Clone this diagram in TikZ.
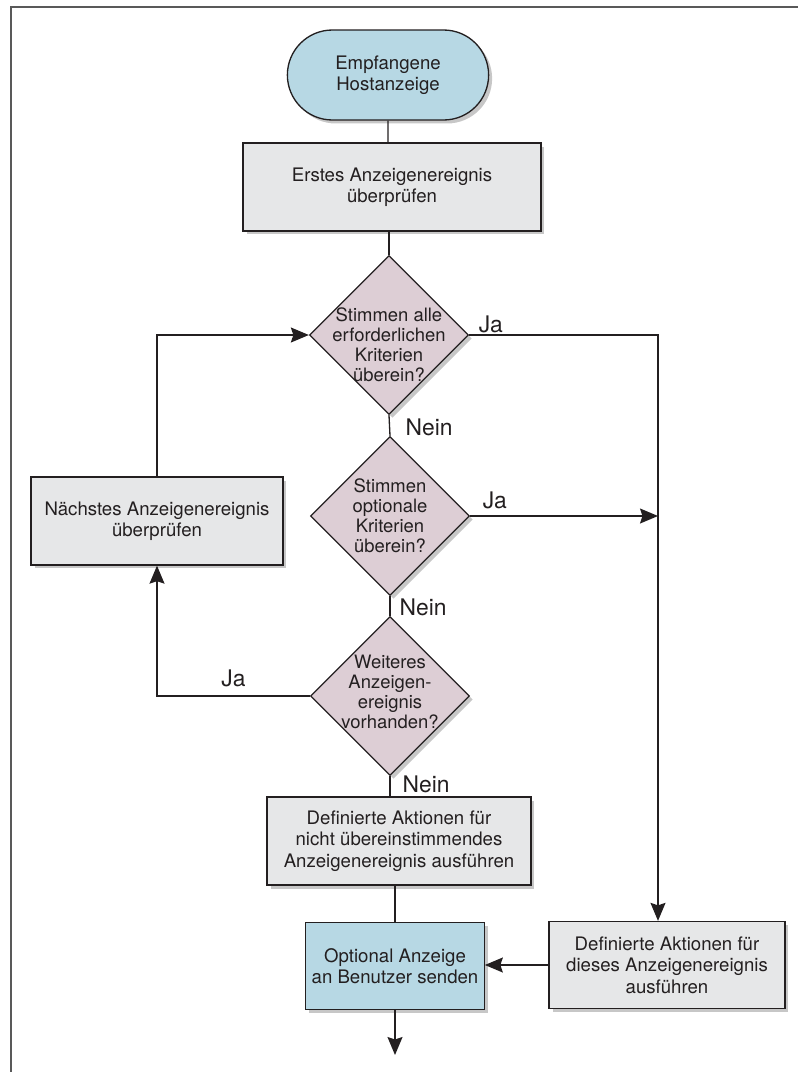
\documentclass[tikz,border=0pt]{standalone}
\usepackage{fontspec}
\setmainfont{TeX Gyre Heros}
\usetikzlibrary{arrows.meta, shapes.geometric, shapes.misc, shadows}

\definecolor{termblue}{RGB}{183,216,228}
\definecolor{decmauve}{RGB}{221,206,213}
\definecolor{stepgray}{RGB}{230,231,232}
\definecolor{inkgray}{RGB}{35,31,32}
\newcommand\boxfont{\fontsize{10.6}{12.2}\selectfont}
\newcommand\decfont{\fontsize{10.5}{11.3}\selectfont}
\newcommand\lblfont{\fontsize{13}{15}\selectfont}

\begin{document}
\begin{tikzpicture}[x=0.02cm, y=-0.02cm, color=inkgray, line width=0.75pt,
        >={Stealth[length=0.36cm, width=0.3cm, inset=0.05cm]},
        shade/.style={drop shadow={shadow xshift=0.07cm, shadow yshift=-0.07cm, fill=black, opacity=0.22}},
        proc/.style={rectangle, draw, fill=stepgray, shade, align=center, font=\boxfont, minimum height=1.76cm},
        term/.style={rounded rectangle, draw, fill=termblue, shade, align=center, font=\boxfont},
        dec/.style={diamond, draw, fill=decmauve, shade, aspect=1, inner sep=0pt, minimum width=3.18cm, minimum height=3.18cm},
        dectext/.style={align=center, font=\decfont, inner sep=0pt},
        lbl/.style={font=\lblfont, inner sep=0pt}]
        \useasboundingbox (0, 0) rectangle (798, 1072);
        \draw[black!65, line width=1.1pt] (11, 1072) -- (11, 7) -- (798, 7);

        \node[term, minimum width=4.26cm, minimum height=1.8cm] (start) at (388, 75) {Empfangene\\Hostanzeige};
        \node[proc, minimum width=5.96cm] (first) at (392, 187) {Erstes Anzeigenereignis\\überprüfen};
        \node[dec, label={[dectext, yshift=-0.2cm]center:Stimmen alle\\erforderlichen\\Kriterien\\überein?}] (req) at (389, 335) {};
        \node[dec, label={[dectext]center:Stimmen\\optionale\\Kriterien\\überein?}] (opt) at (390, 516) {};
        \node[dec, label={[dectext, yshift=0.08cm]center:Weiteres\\Anzeigen-\\ereignis\\vorhanden?}] (more) at (390, 696) {};
        \node[proc, minimum width=5.04cm] (next) at (157, 521) {Nächstes Anzeigenereignis\\überprüfen};
        \node[proc, minimum width=5.28cm] (nomatch) at (399, 841) {Definierte Aktionen für\\nicht übereinstimmendes\\Anzeigenereignis ausführen};
        \node[proc, fill=termblue, minimum width=3.44cm, minimum height=1.74cm] (notify) at (395, 966) {Optional Anzeige\\an Benutzer senden};
        \node[proc, minimum width=4.72cm, minimum height=1.74cm] (match) at (667, 965) {Definierte Aktionen für\\dieses Anzeigenereignis\\ausführen};
        \coordinate (rail) at (658, 0);
        \coordinate (out) at (395, 1055);

        \draw (start) -- (start |- first.north);
        \draw (first.south -| req.north) -- (req.north);
        \draw (req.south) -- (opt.north) node[lbl, anchor=base west, xshift=0.32cm, yshift=-0.4cm] at (req.south) {Nein};
        \draw (opt.south) -- (more.north) node[lbl, anchor=base west, xshift=0.18cm, yshift=-0.38cm] at (opt.south) {Nein};
        \draw (more.south) -- (more.south |- nomatch.north) node[lbl, anchor=base west, xshift=0.24cm, yshift=-0.32cm] at (more.south) {Nein};
        \draw[->] (req.east) -- (req.east -| rail) node[lbl, anchor=base west, xshift=0.18cm, yshift=0.06cm] at (req.east) {Ja} -- (rail |- match.north);
        \draw[->] (opt.east) -- (opt.east -| rail) node[lbl, anchor=base west, xshift=0.24cm, yshift=0.16cm] at (opt.east) {Ja};
        \draw[->] (more.west) -| node[lbl, pos=0.25, above, yshift=0.16cm] {Ja} (next.south);
        \draw[->] (next.north) |- (req.west);
        \draw (nomatch.south -| out) -- (notify.north -| out);
        \draw[->] (match.west) -- (match.west -| notify.east);
        \draw[->] (notify.south -| out) -- (out);
    \end{tikzpicture}
\end{document}
